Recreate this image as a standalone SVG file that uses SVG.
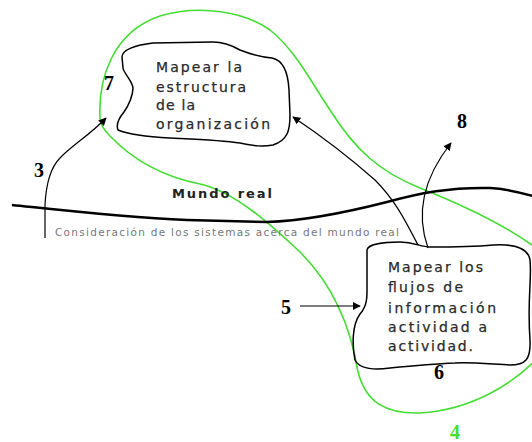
<svg xmlns="http://www.w3.org/2000/svg" width="532" height="442" viewBox="0 0 532 442">
<style>
.cloud{fill:none;stroke:#000;stroke-width:1.5;stroke-linejoin:round}
.conn{fill:none;stroke:#000;stroke-width:1.2}
.box{font-family:"DejaVu Sans",Verdana,sans-serif;font-size:14px;fill:#2a2a2a;stroke:#2a2a2a;stroke-width:0.25}
.num{font-family:"Liberation Serif","Times New Roman",serif;font-size:20px;font-weight:bold;fill:#000}
.green{fill:none;stroke:#44dd33;stroke-width:1.6}
</style>
<defs>
<marker id="ah" viewBox="0 0 10 10" refX="9" refY="5" markerWidth="8" markerHeight="8" markerUnits="userSpaceOnUse" orient="auto">
<path d="M0,0 L10,5 L0,10 Z" fill="#000"/>
</marker>
</defs>
<rect width="532" height="442" fill="#fff"/>
<g id="boundary">
<path class="green" d="M100,118 C98,80 112,32 160,16 C200,4 245,12 270,30 C295,50 310,80 330,110 C355,150 380,172 420,188 C470,208 515,230 545,255 M545,350 C515,385 470,410 420,413 C385,414 366,402 358,372 C350,322 330,282 300,252 C270,224 235,192 200,184 C160,176 130,157 110,136 C103,129 100,123 100,118"/>
</g>
<g id="realworld">
<path d="M12,205 C60,210 120,217 187,220 L267,222 C300,221 340,214 387,202 C420,193 450,187 490,188 C510,189 525,194 540,198" fill="none" stroke="#000" stroke-width="2.5"/>
<text x="172" y="198" textLength="100" lengthAdjust="spacing" style="font-family:'DejaVu Sans',Verdana,sans-serif;font-size:13px;font-weight:bold;fill:#222">Mundo real</text>
<text x="55" y="236" textLength="344" lengthAdjust="spacing" style="font-family:'DejaVu Sans',Verdana,sans-serif;font-size:10.5px;fill:#777">Consideración de los sistemas acerca del mundo real</text>
</g>
<g id="node-estructura">
<path class="cloud" d="M122,57 C122,50 135,45 153,43 L213,42 C225,42 233,46 240,50 C255,56 262,57 272,58 C282,60 288,70 289,90 L290,115 C290,130 288,140 273,145 C262,147 255,146 240,143 C220,140 190,139 170,138 C150,137 130,135 118,130 C116,125 119,118 124,112 C129,105 133,95 133,88 C132,80 124,74 123,68 Z"/>
<text class="box" x="156" y="72" textLength="86" lengthAdjust="spacing">Mapear la</text>
<text class="box" x="156" y="92" textLength="90" lengthAdjust="spacing">estructura</text>
<text class="box" x="156" y="110" textLength="39" lengthAdjust="spacing">de la</text>
<text class="box" x="156" y="129" textLength="114" lengthAdjust="spacing">organización</text>
</g>
<g id="node-flujos">
<path class="cloud" d="M367,250 C368,244 385,242 400,242 C415,242 420,247 430,247 C445,247 470,247 493,245 C510,244 528,246 530,260 C532,280 527,300 530,340 C531,360 525,365 510,365 C490,364 470,362 455,363 C430,364 410,366 390,368 C375,370 360,370 355,360 C352,345 352,325 360,314 C368,305 367,295 367,285 Z"/>
<text class="box" x="388" y="272" textLength="95" lengthAdjust="spacing">Mapear los</text>
<text class="box" x="388" y="292" textLength="75" lengthAdjust="spacing">flujos de</text>
<text class="box" x="388" y="313" textLength="108" lengthAdjust="spacing">información</text>
<text class="box" x="388" y="332" textLength="99" lengthAdjust="spacing">actividad a</text>
<text class="box" x="388" y="351" textLength="85" lengthAdjust="spacing">actividad.</text>
</g>
<g id="connectors">
<path class="conn" d="M45,238 L45,205 C46,185 50,168 60,158 C72,145 90,135 106,118" marker-end="url(#ah)"/>
<path class="conn" d="M418,245 C405,220 395,200 375,180 C350,158 320,135 293,117" marker-end="url(#ah)"/>
<path class="conn" d="M428,248 C418,220 418,185 451,143" marker-end="url(#ah)"/>
<path class="conn" d="M300,306 L360,306" marker-end="url(#ah)"/>
</g>
<g id="labels">
<text class="num" x="34" y="177">3</text>
<text class="num" x="104" y="90">7</text>
<text class="num" x="457" y="128">8</text>
<text class="num" x="281" y="314">5</text>
<text class="num" x="434" y="379">6</text>
<text class="num" x="450" y="439" style="fill:#44dd33">4</text>
</g>
</svg>
